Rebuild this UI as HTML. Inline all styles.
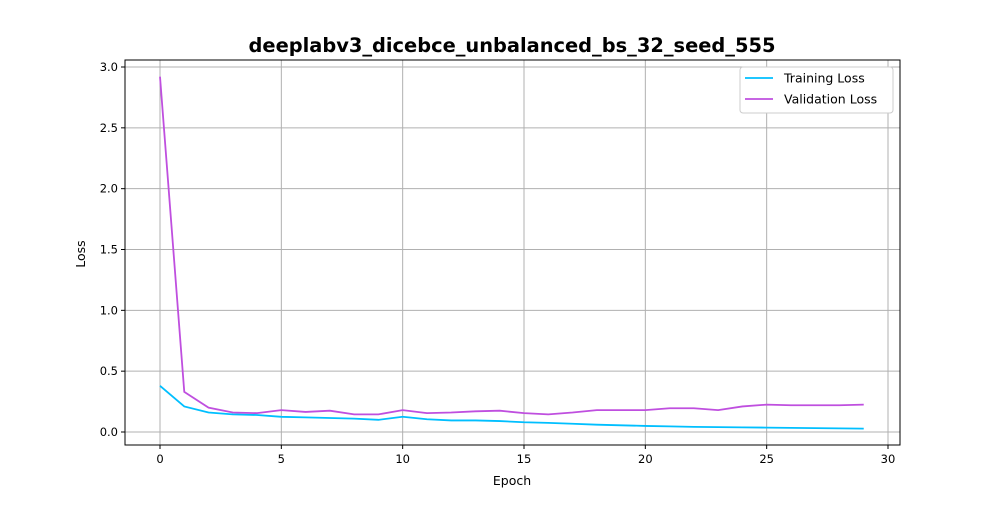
<!DOCTYPE html>
<html><head><meta charset="utf-8"><style>
body{margin:0;background:#fff;font-family:"Liberation Sans","DejaVu Sans",sans-serif}
svg text{font-family:"DejaVu Sans","Liberation Sans",sans-serif}
</style></head><body>
<svg id="c" width="1000" height="500" xmlns="http://www.w3.org/2000/svg"></svg>
<script>
const epochs=[...Array(30).keys()];
const trainLoss=[0.38,0.21,0.16,0.145,0.14,0.125,0.12,0.115,0.11,0.10,0.125,0.105,0.095,0.095,0.09,0.08,0.075,0.068,0.06,0.055,0.05,0.046,0.042,0.04,0.038,0.036,0.034,0.032,0.03,0.028];
const valLoss=[2.92,0.33,0.20,0.16,0.155,0.18,0.165,0.175,0.145,0.145,0.18,0.155,0.16,0.17,0.175,0.155,0.145,0.16,0.18,0.18,0.18,0.195,0.195,0.18,0.21,0.225,0.22,0.22,0.22,0.225];
const xTicks=[0,5,10,15,20,25,30];
const yTicks=[0,0.5,1.0,1.5,2.0,2.5,3.0];
const L=125,R=900,T=60,B=445;
const sx=v=>160+(v-0)*(888-160)/30;
const sy=v=>432-v*(432-67)/3;
const svg=document.getElementById('c');
const NS='http://www.w3.org/2000/svg';
function mk(t,a,p){const e=document.createElementNS(NS,t);for(const k in a)e.setAttribute(k,a[k]);(p||svg).appendChild(e);return e;}
let e;
xTicks.forEach(v=>{
 e=mk('line',{x1:sx(v),x2:sx(v),y1:T,y2:B,stroke:'#b0b0b0','stroke-width':1});
 
 mk('line',{x1:sx(v),x2:sx(v),y1:B,y2:B+4,stroke:'#000'});
 e=mk('text',{x:sx(v),y:B+18,'text-anchor':'middle','font-size':11.5});e.textContent=v;
 
});
yTicks.forEach(v=>{
 e=mk('line',{x1:L,x2:R,y1:sy(v),y2:sy(v),stroke:'#b0b0b0','stroke-width':1});
 
 mk('line',{x1:L-4,x2:L,y1:sy(v),y2:sy(v),stroke:'#000'});
 e=mk('text',{x:L-7,y:sy(v)+4,'text-anchor':'end','font-size':11.5});e.textContent=v.toFixed(1);
 
});
e=mk('rect',{x:L,y:T,width:R-L,height:B-T,fill:'none',stroke:'#000','stroke-width':1});

function line(d,c,n){const p=mk('polyline',{points:d.map((v,i)=>sx(epochs[i])+','+sy(v)).join(' '),fill:'none',stroke:c,'stroke-width':1.8});
 }
line(trainLoss,'#00bfff','training-loss-line');
line(valLoss,'#bf4fdf','validation-loss-line');
e=mk('text',{x:512,y:52,'text-anchor':'middle','font-size':19.4,'font-weight':'bold'});e.textContent='deeplabv3_dicebce_unbalanced_bs_32_seed_555';

e=mk('text',{x:512,y:485,'text-anchor':'middle','font-size':12.5});e.textContent='Epoch';

e=mk('text',{x:85,y:254,'text-anchor':'middle','font-size':12.5,transform:'rotate(-90 85 254)'});e.textContent='Loss';

const g=mk('g',{});
mk('rect',{x:740,y:67,width:153,height:46,rx:3,fill:'#fff',stroke:'#ccc'},g);
[['Training Loss','#00bfff',78],['Validation Loss','#bf4fdf',99]].forEach(([t,c,y])=>{
 mk('line',{x1:745,x2:773,y1:y,y2:y,stroke:c,'stroke-width':1.8},g);
 const tx=mk('text',{x:784,y:y+4.5,'font-size':12.5},g);tx.textContent=t;
 
});
</script>
</body></html>
